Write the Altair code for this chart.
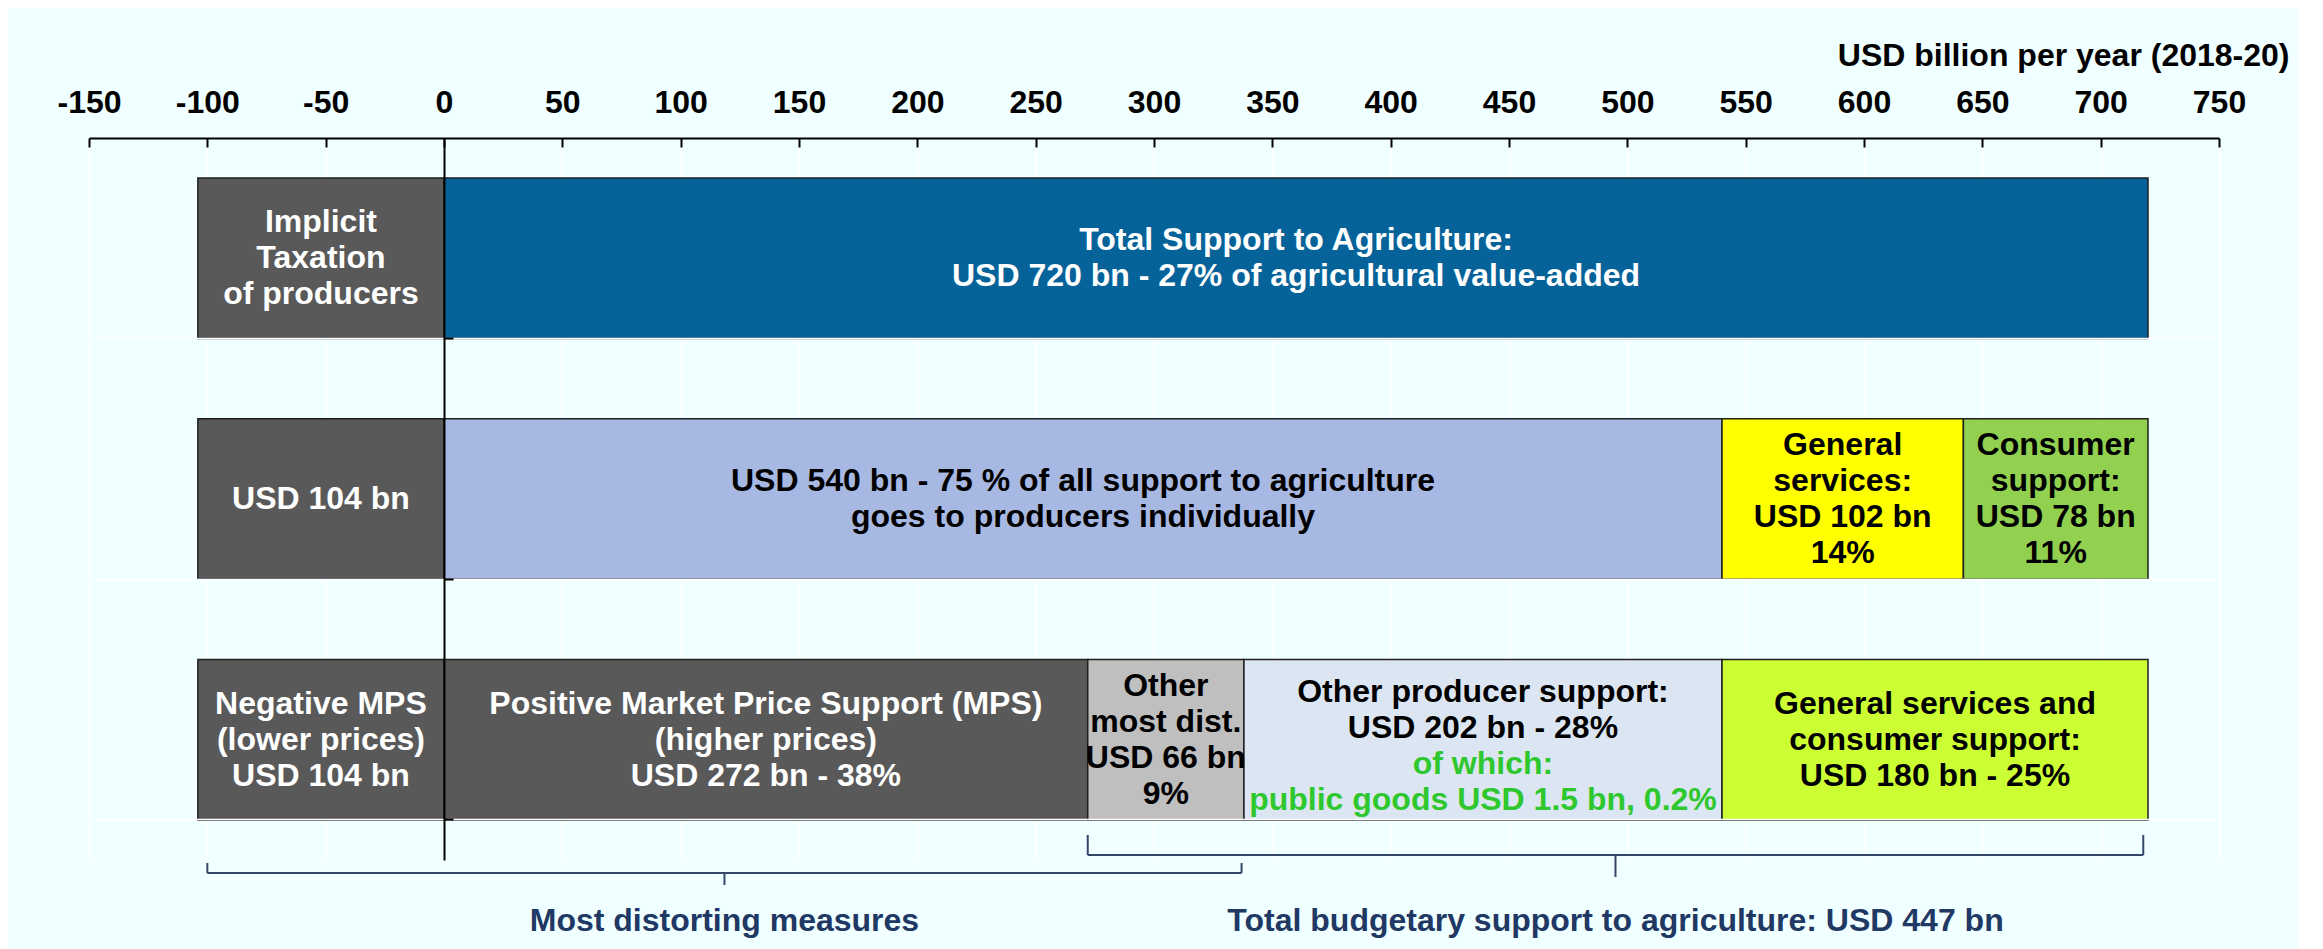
import altair as alt
import pandas as pd

# ---------------- data ----------------
rows = ["Total support", "Support by recipient", "Support by measure"]

seg_row = [0, 0, 1, 1, 1, 1, 2, 2, 2, 2, 2]
seg_kind = ["tax", "total", "tax", "individual", "general", "consumer",
            "tax", "mps", "other_dist", "other_prod", "gsc"]
seg_start = [-104, 0, -104, 0, 540, 642, -104, 0, 272, 338, 540]
seg_end = [0, 720, 0, 540, 642, 720, 0, 272, 338, 540, 720]
seg_label = [
    "Implicit\nTaxation\nof producers",
    "Total Support to Agriculture:\nUSD 720 bn - 27% of agricultural value-added",
    "USD 104 bn",
    "USD 540 bn - 75 % of all support to agriculture\ngoes to producers individually",
    "General\nservices:\nUSD 102 bn\n14%",
    "Consumer\nsupport:\nUSD 78 bn\n11%",
    "Negative MPS\n(lower prices)\nUSD 104 bn",
    "Positive Market Price Support (MPS)\n(higher prices)\nUSD 272 bn - 38%",
    "Other\nmost dist.\nUSD 66 bn\n9%",
    "Other producer support:\nUSD 202 bn - 28%",
    "General services and\nconsumer support:\nUSD 180 bn - 25%",
]

sub_row = [2]
sub_start = [338]
sub_end = [540]
sub_label = ["of which:\npublic goods USD 1.5 bn, 0.2%"]

bracket_label = ["Most distorting measures",
                 "Total budgetary support to agriculture: USD 447 bn"]
bracket_start = [-100, 272]
bracket_end = [337, 718]

tick_values = [-150, -100, -50, 0, 50, 100, 150, 200, 250, 300, 350,
               400, 450, 500, 550, 600, 650, 700, 750]
axis_title = "USD billion per year (2018-20)"

# ---------------- styles ----------------
kind_domain = ["tax", "total", "individual", "general", "consumer",
               "mps", "other_dist", "other_prod", "gsc"]
kind_fill = ["#595959", "#056399", "#A7B9E3", "#FFFF00", "#92D050",
             "#595959", "#BFBFBF", "#DCE6F2", "#CCFF33"]
kind_text = ["#FFFFFF", "#FFFFFF", "#000000", "#000000", "#000000",
             "#FFFFFF", "#000000", "#000000", "#000000"]

FONT = "Liberation Sans"
FS = 32
LH = 36
W, H = 2130, 722
ZERO_PX = W * 150 / 900

seg = pd.DataFrame({
    "row": [rows[i] for i in seg_row],
    "kind": seg_kind,
    "start": seg_start,
    "end": seg_end,
    "label": seg_label,
})
sub = pd.DataFrame({
    "row": [rows[i] for i in sub_row],
    "start": sub_start,
    "end": sub_end,
    "label": sub_label,
})
br = pd.DataFrame({
    "idx": list(range(len(bracket_label))),
    "label": bracket_label,
    "start": bracket_start,
    "end": bracket_end,
})

xscale = alt.Scale(domain=[-150, 750], nice=False, zero=False)
yscale = alt.Scale(domain=rows, paddingInner=0.333, paddingOuter=0.1667)

top_axis = alt.Axis(
    orient="top", values=tick_values, labelExpr="'' + datum.value",
    labelFont=FONT, labelFontSize=FS, labelFontWeight="bold", labelColor="#000000",
    labelBaseline="middle", labelPadding=36, labelFlush=False,
    ticks=False, domain=False,
    grid=True, gridColor="#FFFFFF", gridWidth=1.5,
    title=axis_title, titleFont=FONT, titleFontSize=FS, titleFontWeight="bold",
    titleColor="#000000", titleAlign="right", titleBaseline="middle",
    titleX=2200, titleY=-83, titleAngle=0,
)
tick_axis = alt.Axis(
    orient="bottom", offset=-H, values=tick_values, labels=False,
    ticks=True, tickSize=9, tickWidth=2, tickColor="#000000",
    domain=True, domainWidth=2, domainColor="#000000",
    grid=False, title=None,
)
y_axis = alt.Axis(
    orient="right", offset=-(W - ZERO_PX), labels=False, title=None,
    ticks=True, tickSize=9, tickWidth=2, tickColor="#000000",
    domain=True, domainWidth=2, domainColor="#000000",
    bandPosition=1, grid=True, gridColor="#FFFFFF", gridWidth=1.5, zindex=1,
)

bars = alt.Chart(seg).mark_bar(stroke="#1F1F1F", strokeWidth=1.5).encode(
    x=alt.X("start:Q", scale=xscale, axis=top_axis),
    x2="end:Q",
    y=alt.Y("row:N", scale=yscale, axis=y_axis),
    fill=alt.Fill("kind:N", scale=alt.Scale(domain=kind_domain, range=kind_fill), legend=None),
)

text_props = dict(font=FONT, fontSize=FS, fontWeight="bold", lineBreak="\n",
                  lineHeight=LH, align="center", baseline="middle")
text_enc = dict(
    x=alt.X("mid:Q", scale=xscale, axis=None),
    y=alt.Y("row:N", scale=yscale),
    text="label:N",
    color=alt.Color("kind:N", scale=alt.Scale(domain=kind_domain, range=kind_text), legend=None),
)

layers = [bars]
text_base = alt.Chart(seg).transform_calculate(
    mid="(datum.start + datum.end) / 2",
    nlines="split(datum.label, '\\n').length",
)
# multi-line blocks are centred on the bar: shift by half the extra lines
for n in [1, 2, 3, 4]:
    main = text_base.transform_filter(
        f"datum.nlines == {n} && datum.kind != 'other_prod'"
    ).mark_text(dy=-(n - 1) * LH / 2, **text_props).encode(**text_enc)
    layers.append(main)

# "Other producer support" block: two black lines above, two green lines below
layers.append(
    text_base.transform_filter("datum.kind == 'other_prod'")
    .mark_text(dy=-48, **text_props).encode(**text_enc)
)
layers.append(
    alt.Chart(sub).transform_calculate(mid="(datum.start + datum.end) / 2").mark_text(
        dy=24, color="#2EC82E", **text_props
    ).encode(
        x=alt.X("mid:Q", scale=xscale, axis=None),
        y=alt.Y("row:N", scale=yscale),
        text="label:N",
    )
)

# brackets (vertical levels in pixels below the plot top)
bracket_levels = [(725, 735, 747), (697, 717, 739)]
LABEL_Y = 783
BR_COLOR = "#34466A"
for i, (ytop, yline, ytip) in enumerate(bracket_levels):
    b = alt.Chart(br).transform_filter(f"datum.idx == {i}").transform_calculate(
        mid="(datum.start + datum.end) / 2")
    horiz = b.mark_rule(color=BR_COLOR, strokeWidth=2).encode(
        x=alt.X("start:Q", scale=xscale, axis=tick_axis if i == 0 else None),
        x2="end:Q", y=alt.value(yline))
    left = b.mark_rule(color=BR_COLOR, strokeWidth=2).encode(
        x=alt.X("start:Q", scale=xscale, axis=None), y=alt.value(ytop), y2=alt.value(yline))
    right = b.mark_rule(color=BR_COLOR, strokeWidth=2).encode(
        x=alt.X("end:Q", scale=xscale, axis=None), y=alt.value(ytop), y2=alt.value(yline))
    tip = b.mark_rule(color=BR_COLOR, strokeWidth=2).encode(
        x=alt.X("mid:Q", scale=xscale, axis=None), y=alt.value(yline), y2=alt.value(ytip))
    lab = b.mark_text(font=FONT, fontSize=FS, fontWeight="bold", color="#1F3864",
                      align="center", baseline="middle").encode(
        x=alt.X("mid:Q", scale=xscale, axis=None), y=alt.value(LABEL_Y), text="label:N")
    layers += [horiz, left, right, tip, lab]

chart = alt.layer(*layers).resolve_axis(x="independent").properties(
    width=W, height=H,
    autosize=alt.AutoSizeParams(type="none"),
    padding={"left": 81, "top": 130, "right": 80, "bottom": 100},
    background="#F0FFFF",
).configure_view(stroke=None)

chart.save("out.html", embed_options={"renderer": "svg", "actions": False})
